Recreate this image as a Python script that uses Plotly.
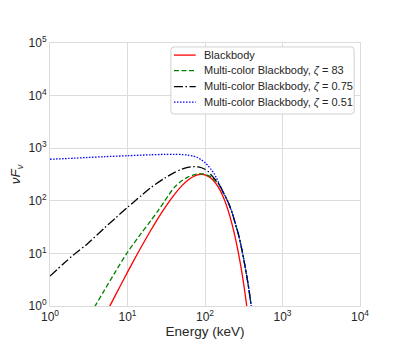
import plotly.graph_objects as go

# values (energy in keV, nuFnu)
bb_energy = [5, 6, 8, 10, 13, 16, 20, 25, 30, 40, 50, 60, 70, 80, 90, 100,
             120, 150, 180, 210, 240, 270, 300, 330, 360]
bb_flux = [0.61, 1.04, 2.35, 4.4, 9.0, 15.6, 27.5, 47.5, 72, 130, 192, 246, 287,
           312, 320, 312, 269, 178, 100, 50, 23.3, 10.1, 4.2, 1.66, 0.64]

tail_energy = [220, 246, 270, 300, 330, 360, 395, 420]
tail_flux = [64, 37, 23, 11.5, 5.5, 2.6, 1.0, 0.52]

mcb83_energy = [3, 4, 5, 7, 10, 15, 20, 25, 30, 40, 50, 60, 70, 80, 90, 100,
                120, 150, 170, 195] + tail_energy
mcb83_flux = [0.55, 1.12, 1.96, 4.5, 10.5, 24, 42, 66, 98, 178, 240, 282, 308,
              322, 325, 318, 285, 205, 148, 100] + tail_flux

mcb075_energy = [1, 1.5, 2, 3, 5, 7, 10, 15, 20, 30, 40, 50, 60, 70, 80, 90,
                 100, 110, 120, 135, 150, 170, 195] + tail_energy
mcb075_flux = [3.7, 6.4, 9.3, 15, 30, 47, 75, 125, 178, 268, 343, 398, 430, 445,
               442, 425, 398, 360, 312, 255, 212, 150, 100] + tail_flux

mcb051_energy = [1, 2, 3, 5, 10, 20, 30, 40, 50, 60, 70, 80, 90, 100, 110, 120,
                 130, 140, 150, 170, 195] + tail_energy
mcb051_flux = [616, 645, 665, 690, 720, 750, 762, 765, 758, 740, 710, 665, 600,
               530, 460, 395, 335, 275, 220, 150, 100] + tail_flux

x_ticks = [1, 10, 100, 1000, 10000]
x_labels = ["10<sup>0</sup>", "10<sup>1</sup>", "10<sup>2</sup>", "10<sup>3</sup>", "10<sup>4</sup>"]
y_ticks = [1, 10, 100, 1000, 10000, 100000]
y_labels = ["10<sup>0</sup>", "10<sup>1</sup>", "10<sup>2</sup>", "10<sup>3</sup>",
            "10<sup>4</sup>", "10<sup>5</sup>"]

series = [
    ("Blackbody", bb_energy, bb_flux, "#ff0000", "solid"),
    ("Multi-color Blackbody, <i>ζ</i> = 83", mcb83_energy, mcb83_flux, "#008000", "5px,2.5px"),
    ("Multi-color Blackbody, <i>ζ</i> = 0.75", mcb075_energy, mcb075_flux, "#000000",
     "9px,2.5px,1.5px,2.5px"),
    ("Multi-color Blackbody, <i>ζ</i> = 0.51", mcb051_energy, mcb051_flux, "#0000ff",
     "1.5px,1.5px"),
]

fig = go.Figure()
for name, xs, ys, color, dash in series:
    fig.add_trace(go.Scatter(
        x=xs, y=ys, mode="lines", name=name, showlegend=False,
        line=dict(color=color, width=1.3, dash=dash, shape="spline", smoothing=0.8),
    ))

# hand-built legend (matplotlib-like compact spacing), in paper coords
lx0, lx1, ly0, ly1 = 0.390, 0.981, 0.730, 0.985
rx, ry = 0.010, 0.012
fig.add_shape(
    type="path", xref="paper", yref="paper",
    path=(f"M {lx0+rx},{ly1} L {lx1-rx},{ly1} Q {lx1},{ly1} {lx1},{ly1-ry} "
          f"L {lx1},{ly0+ry} Q {lx1},{ly0} {lx1-rx},{ly0} L {lx0+rx},{ly0} "
          f"Q {lx0},{ly0} {lx0},{ly0+ry} L {lx0},{ly1-ry} Q {lx0},{ly1} {lx0+rx},{ly1} Z"),
    fillcolor="rgba(255,255,255,0.9)", line=dict(color="#d0d0d0", width=1), layer="above",
)
row_y = [0.954, 0.895, 0.834, 0.775]
for (name, _, _, color, dash), yy in zip(series, row_y):
    fig.add_shape(type="line", xref="paper", yref="paper",
                  x0=0.400, x1=0.470, y0=yy, y1=yy, layer="above",
                  line=dict(color=color, width=1.3, dash=dash))
    fig.add_annotation(xref="paper", yref="paper", x=0.490, y=yy, text=name,
                       showarrow=False, xanchor="left", yanchor="middle",
                       font=dict(size=11, color="#262626"))

axis_common = dict(
    type="log", automargin=False,
    showgrid=True, gridcolor="#dcdcdc", gridwidth=1,
    showline=True, linecolor="#dcdcdc", linewidth=1, mirror=True,
    ticks="", zeroline=False,
    tickfont=dict(family="Liberation Sans, Arial", size=12, color="#262626"),
)

# the page body adds an 8px offset, so margins are shifted to compensate
fig.update_layout(
    width=400, height=350,
    paper_bgcolor="white", plot_bgcolor="white",
    font=dict(family="Liberation Sans, Arial", color="#262626"),
    margin=dict(l=42, r=48, t=35, b=52),
    xaxis=dict(
        axis_common, range=[0, 4], tickvals=x_ticks, ticktext=x_labels,
        title=dict(text="Energy (keV)", font=dict(size=13.5), standoff=2),
    ),
    yaxis=dict(
        axis_common, range=[0, 5], tickvals=y_ticks, ticktext=y_labels,
        title=dict(text="<i>νF</i><sub><i>ν</i></sub>", font=dict(size=13.5), standoff=4),
    ),
    showlegend=False,
)

fig.write_html("out.html")
